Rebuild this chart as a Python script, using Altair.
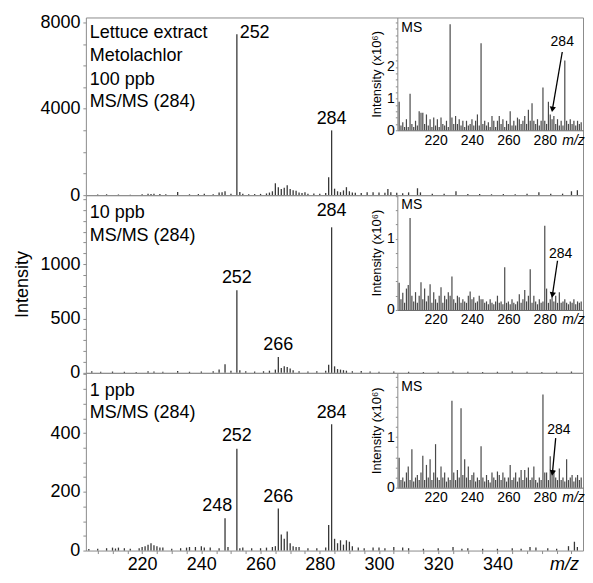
import altair as alt
import pandas as pd

FONT = "Liberation Sans"
GRAY = "#8c8c8c"
INK = "#383838"
INSET_INK = "#4a4a4a"

W, H = 498, 178
X_MAIN = [201, 368.9]
INSET_X = [199, 301]
INSET_RANGE = [312, 498]

# ---------------- main MS/MS spectra (m/z, intensity) ----------------
top_mz = [205, 208, 212, 216, 220, 222, 223, 224, 226, 228, 232, 236, 239, 241, 244, 246, 247, 248, 250,
          252, 253, 254, 256, 258, 260, 262, 263, 264, 265, 266, 267, 268, 269, 270, 271, 272, 273, 274, 275,
          276, 278, 280, 282, 283, 284, 285, 286, 287, 288, 289, 290, 291, 292, 294, 296, 298, 300, 302, 303,
          304, 306, 308, 310, 313, 314, 318, 322, 326, 330, 334, 338, 342, 346, 350, 354, 358, 362, 365, 367]
top_int = [30, 40, 30, 25, 40, 60, 50, 70, 50, 40, 150, 40, 50, 60, 40, 120, 130, 180, 60,
           7450, 150, 60, 40, 50, 60, 80, 120, 180, 550, 370, 280, 340, 460, 280, 230, 200, 120, 100, 140,
           60, 80, 60, 100, 830, 3000, 300, 180, 140, 220, 370, 180, 120, 110, 100, 130, 140, 120, 110, 280,
           140, 110, 90, 130, 320, 130, 60, 60, 180, 50, 50, 40, 50, 40, 60, 130, 60, 70, 180, 230]

mid_mz = [203, 206, 210, 214, 218, 222, 224, 227, 232, 236, 240, 244, 246, 248, 250, 252, 253, 255, 258,
          261, 263, 265, 266, 267, 268, 269, 270, 271, 273, 276, 279, 282, 283, 284, 285, 286, 287, 288, 289,
          291, 294, 297, 300, 305, 310, 315, 320, 325, 330, 335, 340, 345, 350, 355, 360, 365]
mid_int = [15, 10, 12, 10, 8, 15, 12, 10, 18, 10, 12, 15, 30, 80, 20, 760, 25, 15, 12,
           15, 20, 30, 145, 45, 60, 55, 40, 25, 15, 12, 15, 20, 75, 1340, 60, 35, 30, 25, 20,
           15, 18, 12, 10, 12, 10, 8, 10, 12, 10, 8, 10, 12, 10, 8, 10, 12]

bot_mz = [202, 205, 208, 210, 211, 212, 214, 216, 219, 220, 221, 222, 223, 224, 225, 226, 227, 230, 233,
          235, 236, 238, 240, 241, 243, 246, 248, 249, 252, 253, 254, 257, 260, 262, 264, 265, 266, 267, 268,
          269, 270, 271, 272, 273, 276, 279, 282, 283, 284, 285, 286, 287, 288, 289, 290, 291, 293, 295, 298,
          300, 302, 305, 308, 310, 315, 320, 325, 328, 330, 335, 340, 345, 348, 351, 353, 357, 360, 364, 366, 367]
bot_int = [5, 6, 8, 10, 7, 10, 8, 6, 8, 12, 15, 20, 25, 18, 15, 10, 10, 6, 8,
           10, 12, 12, 15, 10, 10, 8, 110, 12, 347, 8, 10, 8, 8, 10, 12, 15, 143, 55, 40,
           65, 25, 15, 12, 12, 8, 8, 10, 87, 430, 40, 25, 35, 20, 35, 30, 15, 10, 8, 10,
           10, 8, 12, 10, 8, 6, 8, 12, 6, 8, 6, 6, 8, 6, 12, 10, 8, 6, 15, 30, 12]

# ---------------- inset full-scan MS spectra (x10^6), m/z 200..300 ----------------
inset_mz = list(range(200, 301))
top_ms = [0.9, 0.15, 0.25, 0.1, 0.35, 0.1, 1.15, 0.2, 0.1, 0.3,
          0.15, 0.6, 0.55, 0.55, 0.2, 0.5, 0.15, 0.35, 0.1, 0.4,
          0.15, 0.35, 0.1, 0.4, 0.2, 0.15, 0.3, 0.1, 3.35, 0.4,
          0.2, 0.45, 0.2, 0.35, 0.15, 0.3, 0.1, 0.3, 0.15, 0.2,
          0.35, 0.15, 0.3, 0.5, 0.15, 2.75, 0.2, 0.3, 0.15, 0.25,
          0.1, 0.45, 0.3, 0.1, 0.3, 0.45, 0.2, 0.35, 0.1, 0.3,
          0.2, 0.6, 0.15, 0.3, 0.15, 0.4, 0.35, 0.2, 0.3, 0.45,
          0.2, 0.65, 0.3, 0.85, 0.3, 0.2, 0.35, 0.15, 0.3, 1.35,
          0.3, 0.2, 0.9, 0.5, 0.35, 0.45, 0.2, 0.35, 0.15, 0.3,
          0.15, 2.2, 0.3, 0.2, 0.35, 0.2, 0.3, 0.15, 0.3, 0.2, 0.25]
mid_ms = [0.38, 0.15, 0.24, 0.1, 0.3, 0.35, 1.29, 0.2, 0.12, 0.25,
          0.1, 0.2, 0.39, 0.15, 0.3, 0.12, 0.2, 0.36, 0.1, 0.25,
          0.15, 0.1, 0.2, 0.32, 0.1, 0.2, 0.15, 0.25, 0.2, 0.47,
          0.15, 0.1, 0.2, 0.18, 0.1, 0.15, 0.12, 0.1, 0.2, 0.26,
          0.15, 0.18, 0.1, 0.12, 0.2, 0.15, 0.15, 0.1, 0.12, 0.08,
          0.15, 0.1, 0.08, 0.12, 0.2, 0.1, 0.12, 0.08, 0.6, 0.1,
          0.12, 0.08, 0.15, 0.1, 0.08, 0.12, 0.22, 0.1, 0.15, 0.28,
          0.12, 0.2, 0.57, 0.1, 0.2, 0.12, 0.08, 0.15, 0.1, 0.12,
          1.18, 0.3, 0.1, 0.15, 0.25, 0.12, 0.2, 0.1, 0.25, 0.1,
          0.12, 0.15, 0.1, 0.08, 0.12, 0.1, 0.15, 0.08, 0.12, 0.1, 0.12]
bot_ms = [0.59, 0.15, 0.2, 0.12, 0.3, 0.42, 0.15, 0.76, 0.12, 0.2,
          0.25, 0.15, 0.3, 0.63, 0.15, 0.45, 0.2, 0.56, 0.15, 0.3,
          0.86, 0.2, 0.15, 0.42, 0.2, 0.3, 0.12, 0.2, 0.15, 1.72,
          0.3, 0.15, 0.35, 0.2, 1.57, 0.25, 0.56, 0.2, 0.42, 0.15,
          0.25, 0.3, 0.12, 0.2, 0.15, 0.82, 0.2, 0.12, 0.25, 0.15,
          0.1, 0.3, 0.2, 0.15, 0.32, 0.25, 0.15, 0.3, 0.2, 0.12,
          0.2, 0.45, 0.15, 0.2, 0.3, 0.12, 0.2, 0.35, 0.15, 0.35,
          0.2, 0.4, 0.15, 0.2, 0.42, 0.15, 0.1, 0.2, 0.15, 1.84,
          0.3, 0.3, 0.15, 0.62, 0.3, 0.35, 0.2, 0.15, 0.38, 0.15,
          0.2, 0.12, 0.56, 0.15, 0.2, 0.25, 0.12, 0.2, 0.25, 0.15, 0.2]

# ---------------- annotations ----------------
top_info = ["Lettuce extract", "Metolachlor", "100 ppb", "MS/MS (284)"]
top_info_y = [7498, 6447, 5350, 4298]
mid_info = ["10 ppb", "MS/MS (284)"]
mid_info_y = [1473, 1264]
bot_info = ["1 ppb", "MS/MS (284)"]
bot_info_y = [544, 467]

top_pk_text = ["252", "284"]
top_pk_x = [258.0, 284]
top_pk_y = [7498, 3520]
mid_pk_text = ["252", "266", "284"]
mid_pk_x = [252, 266, 284]
mid_pk_y = [873, 255, 1491]
bot_pk_text = ["248", "252", "266", "284"]
bot_pk_x = [245.4, 252, 266, 284]
bot_pk_y = [151, 390, 181, 467]

# inset arrow: label (x, y), arrow start (x, y), arrow tip (x, y)
top_arrow = [(289.6, 2.78), (289.6, 2.47), (284.2, 0.66)]
mid_arrow = [(288.7, 0.79), (287.0, 0.69), (284.2, 0.21)]
bot_arrow = [(287.8, 1.14), (286.0, 0.98), (284.2, 0.29)]


def panel(mz, inten, ymax, yvals, ystep, ylabmax, ytitle, info, info_y, pk_text, pk_x, pk_y,
          ms, inset_ymax, inset_h, inset_yvals, inset_labmax, ms_y, arrow, bottom):
    xs = alt.Scale(domain=X_MAIN, nice=False, zero=False)
    ys = alt.Scale(domain=[0, ymax], nice=False)
    if bottom:
        xaxis = alt.Axis(values=list(range(205, 366, 5)), format="d",
                         labelExpr="(datum.value % 20 == 0 && datum.value <= 340) ? datum.label : ''",
                         labelOverlap=False, tickSize=3, tickColor=GRAY, labelPadding=2,
                         labelFontSize=18, domain=False, grid=False,
                         title="m/z", titleFontStyle="italic", titleFontWeight="normal",
                         titleFontSize=18, titleX=479, titleY=5, titleAlign="center",
                         titleBaseline="top")
    else:
        xaxis = None
    yaxis = alt.Axis(values=yvals, format="d",
                     labelExpr=f"(datum.value % {ystep} == 0 && datum.value <= {ylabmax}) ? datum.label : ''",
                     labelOverlap=False, tickSize=3, tickColor=GRAY, labelPadding=3,
                     labelFontSize=18, domain=False, grid=False,
                     title=ytitle if ytitle else "", titleFontSize=18,
                     titleFontWeight="normal", titlePadding=8)

    def mx(f):
        return alt.X(f, scale=xs, axis=xaxis)

    def my(f):
        return alt.Y(f, scale=ys, axis=yaxis)

    main = alt.Chart(pd.DataFrame({"mz": mz, "i": inten})).mark_rule(
        color=INK, strokeWidth=1.3).encode(x=mx("mz:Q"), y=my("i:Q"), y2=alt.datum(0))
    pk = alt.Chart(pd.DataFrame({"mz": pk_x, "i": pk_y, "t": pk_text})).mark_text(
        fontSize=18, align="center", baseline="middle", color="black").encode(
        x=mx("mz:Q"), y=my("i:Q"), text="t:N")
    inf = alt.Chart(pd.DataFrame({"mz": [202.3] * len(info), "i": info_y, "t": info})).mark_text(
        fontSize=18, align="left", baseline="middle", color="black").encode(
        x=mx("mz:Q"), y=my("i:Q"), text="t:N")
    main_layer = alt.layer(main, pk, inf)

    ixs = alt.Scale(domain=INSET_X, range=INSET_RANGE, nice=False, zero=False)
    iys = alt.Scale(domain=[0, inset_ymax], range=[inset_h, 0], nice=False)
    ix_axis = alt.Axis(orient="bottom", offset=-(H - inset_h), values=[220, 240, 260, 280],
                       ticks=False, labelPadding=3, labelFontSize=14, domainColor="#666",
                       grid=False, title="m/z", titleFontStyle="italic", titleFontWeight="normal",
                       titleFontSize=14, titleX=488, titleY=3, titleAlign="center",
                       titleBaseline="top")
    iy_axis = alt.Axis(orient="left", offset=-INSET_RANGE[0], values=inset_yvals,
                       labelExpr=f"(datum.value % 1 == 0 && datum.value <= {inset_labmax}) ? format(datum.value, 'd') : ''",
                       labelOverlap=False,
                       tickSize=2, tickColor=GRAY, labelPadding=1, labelFontSize=14,
                       domainColor=GRAY, grid=False, title="Intensity (x10⁶)",
                       titleFontSize=13, titleFontWeight="normal", titlePadding=3)

    def ix(f):
        return alt.X(f, scale=ixs, axis=ix_axis)

    def iy(f):
        return alt.Y(f, scale=iys, axis=iy_axis)

    ins = alt.Chart(pd.DataFrame({"mz": inset_mz, "v": ms})).mark_rule(
        color=INSET_INK, strokeWidth=1.2).encode(x=ix("mz:Q"), y=iy("v:Q"), y2=alt.datum(0))
    ms_lab = alt.Chart(pd.DataFrame({"mz": [201.2], "v": [ms_y], "t": ["MS"]})).mark_text(
        fontSize=14, align="left", baseline="middle", color="black").encode(
        x=ix("mz:Q"), y=iy("v:Q"), text="t:N")
    (lx, ly), (sx, sy), (tx, ty) = arrow
    arr = alt.Chart(pd.DataFrame({"mz": [sx], "v": [sy], "mz2": [tx], "v2": [ty]})).mark_rule(
        color="black", strokeWidth=1.3).encode(
        x=ix("mz:Q"), y=iy("v:Q"), x2="mz2:Q", y2="v2:Q")
    head = alt.Chart(pd.DataFrame({"mz": [tx], "v": [ty]})).mark_point(
        shape="triangle-down", filled=True, size=40, angle=9, color="black", opacity=1).encode(
        x=ix("mz:Q"), y=iy("v:Q"))
    alab = alt.Chart(pd.DataFrame({"mz": [lx], "v": [ly], "t": ["284"]})).mark_text(
        fontSize=14, align="center", baseline="middle", color="black").encode(
        x=ix("mz:Q"), y=iy("v:Q"), text="t:N")
    inset_layer = alt.layer(ins, ms_lab, arr, head, alab)

    return alt.layer(main_layer, inset_layer).resolve_scale(
        x="independent", y="independent").properties(width=W, height=H)


top = panel(top_mz, top_int, 8230, list(range(0, 8001, 1000)), 4000, 8000, None,
            top_info, top_info_y, top_pk_text, top_pk_x, top_pk_y,
            top_ms, 3.56, 113, [round(0.2 * k, 1) for k in range(0, 18)], 2, 3.22, top_arrow, False)
mid = panel(mid_mz, mid_int, 1636, list(range(0, 1601, 100)), 500, 1000, "Intensity",
            mid_info, mid_info_y, mid_pk_text, mid_pk_x, mid_pk_y,
            mid_ms, 1.61, 115, [round(0.2 * k, 1) for k in range(0, 9)], 1, 1.47, mid_arrow, False)
bot = panel(bot_mz, bot_int, 605, list(range(0, 601, 50)), 200, 400, None,
            bot_info, bot_info_y, bot_pk_text, bot_pk_x, bot_pk_y,
            bot_ms, 2.27, 115, [round(0.2 * k, 1) for k in range(0, 12)], 1, 2.0, bot_arrow, True)

chart = alt.vconcat(top, mid, bot, spacing=0, bounds="flush").properties(
    padding={"left": 5, "top": 4, "right": 0, "bottom": 0}
).configure_view(stroke=GRAY, strokeWidth=1).configure_axis(
    labelFont=FONT, titleFont=FONT, labelColor="black", titleColor="black"
).configure_text(font=FONT)

chart.save("out.html", embed_options={"renderer": "svg", "actions": False})
